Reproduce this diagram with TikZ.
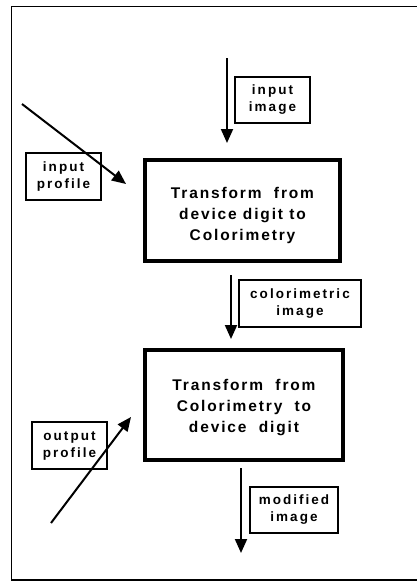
\documentclass[tikz,border=0pt]{standalone}
\usepackage{fontspec}
\setmainfont{Liberation Sans}
\usetikzlibrary{arrows.meta}
\begin{document}
\begin{tikzpicture}[x=1pt,y=-1pt,
  lbl/.style={draw,line width=1.4pt,minimum width=#1,minimum height=46pt,inner sep=0pt,align=center,
    font=\bfseries\fontsize{13.5}{17}\selectfont\addfontfeature{LetterSpace=15}},
  bigbox/.style={draw,line width=4.5pt,inner sep=0pt},
  bigtext/.style={align=center,inner sep=0pt,
    font=\bfseries\fontsize{15.5}{21}\selectfont\addfontfeature{LetterSpace=12}},
  flow/.style={line width=2pt,-{Triangle[length=14pt,width=12pt]}}]
\useasboundingbox (0,0) rectangle (417,582);
\fill[white] (0,0) rectangle (417,582);
\draw[line width=1.8pt] (417,6.5) -- (11.5,6.5) -- (11.5,580) -- (417,580);
% main boxes
\node[bigbox,minimum width=195pt,minimum height=101pt] (t1) at (242.5,210.5) {};
\node[bigtext] (t1txt) at ([yshift=-5pt]t1.center) {Transform~~from\\device digit to\\Colorimetry};
\node[bigbox,minimum width=198pt,minimum height=110pt] (t2) at (244,405) {};
\node[bigtext] (t2txt) at ([yshift=-3pt]t2.center) {Transform~~from\\Colorimetry~~to\\device~~digit};
% labels
\node[lbl=75pt] (ii) at (272.5,100) {input\\image};
\node[lbl=75pt,minimum height=47pt] (ip) at (63.5,176.5) {input\\profile};
\node[lbl=122pt,minimum height=47pt] (ci) at (300,303.5) {colorimetric\\image};
\node[lbl=75pt,minimum height=47pt] (op) at (69.5,445.5) {output\\profile};
\node[lbl=88pt] (mi) at (294,510) {modified\\image};
% arrow ends
\coordinate (a1s) at (227,58);  \coordinate (a1e) at (227,143);
\coordinate (a2s) at (231,275); \coordinate (a2e) at (231,339);
\coordinate (a3s) at (241,468); \coordinate (a3e) at (241,553);
\coordinate (d1s) at (22,104);  \coordinate (d1e) at (126,184);
\coordinate (d2s) at (51,523);  \coordinate (d2e) at (131,417);
\draw[flow] (a1s) -- (a1e);
\draw[flow] (a2s) -- (a2e);
\draw[flow] (a3s) -- (a3e);
\draw[flow] (d1s) -- (d1e);
\draw[flow] (d2s) -- (d2e);
\end{tikzpicture}
\end{document}
